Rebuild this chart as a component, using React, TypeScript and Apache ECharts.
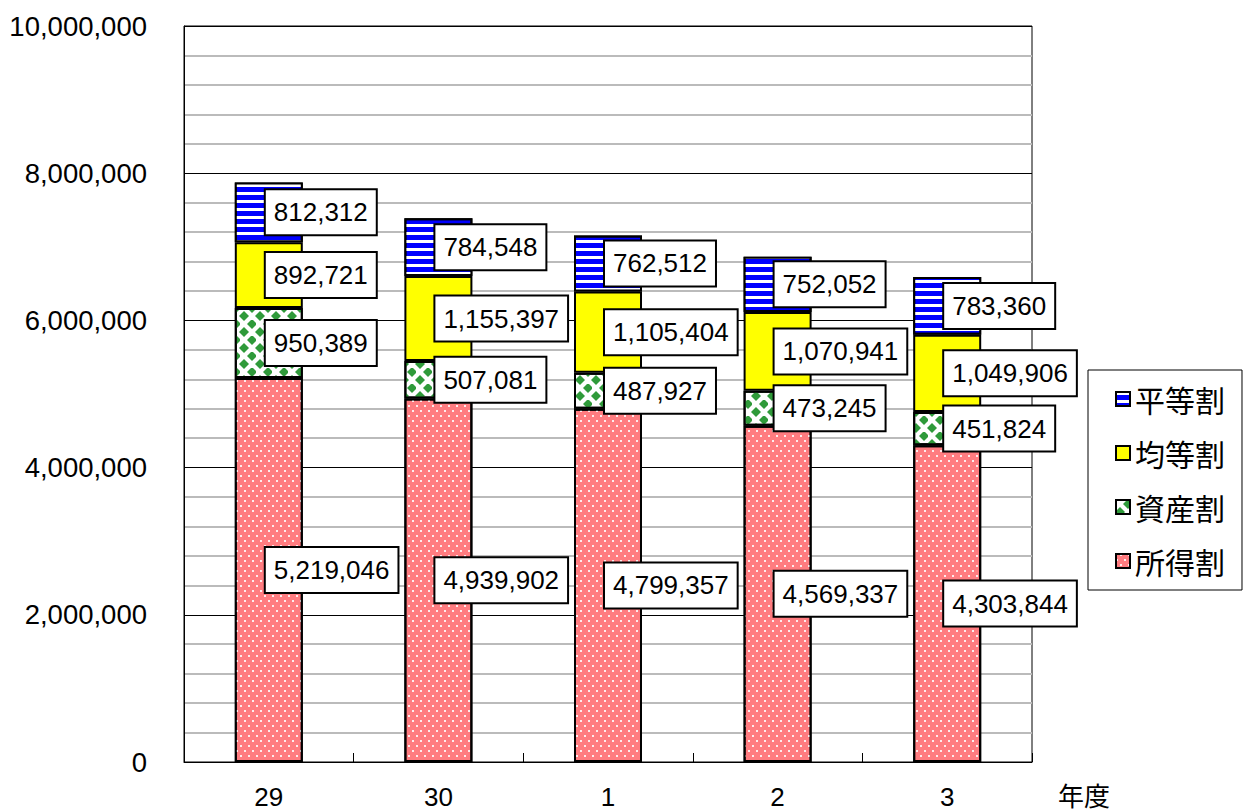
import React, { useEffect, useRef } from "react";
import * as echarts from "echarts";

const categories = ["29", "30", "1", "2", "3"];
const shotokuwari = [5219046, 4939902, 4799357, 4569337, 4303844];
const shisanwari = [950389, 507081, 487927, 473245, 451824];
const kintouwari = [892721, 1155397, 1105404, 1070941, 1049906];
const byoudouwari = [812312, 784548, 762512, 752052, 783360];
const seriesNames = ["所得割", "資産割", "均等割", "平等割"];
const legendOrder = ["平等割", "均等割", "資産割", "所得割"];
const xAxisName = "年度";

const FONT = "'Liberation Sans', 'Noto Sans CJK JP', sans-serif";
const CJK = "'Noto Sans CJK JP', sans-serif";

const fmt = (v: number) => v.toLocaleString("en-US");

export default function App() {
  const ref = useRef<HTMLDivElement>(null);
  useEffect(() => {
    document.body.style.margin = "0";
    const chart = echarts.init(ref.current!, undefined, { renderer: "svg" });
    const label = {
      show: true,
      position: ["50%", "50%"],
      offset: [-3, 0],
      align: "left",
      verticalAlign: "middle",
      formatter: (p: any) => fmt(p.value),
      fontFamily: FONT,
      fontSize: 26,
      lineHeight: 30,
      color: "#000",
      backgroundColor: "#fff",
      borderColor: "#000",
      borderWidth: 2,
      padding: [7, 8, 7, 8],
    };
    const mk = (name: string, data: number[], itemStyle: any) => ({
      name,
      type: "bar",
      stack: "total",
      barWidth: 68,
      data,
      label,
      itemStyle: { borderColor: "#000", borderWidth: 2, ...itemStyle },
      emphasis: { disabled: true },
    });
    chart.setOption({
      animation: false,
      grid: {
        left: 184,
        top: 26,
        right: 218,
        bottom: 49,
        show: true,
        borderColor: "#000",
        borderWidth: 1,
        backgroundColor: "#fff",
      },
      legend: {
        data: legendOrder,
        orient: "vertical",
        left: 1088,
        top: 370,
        backgroundColor: "#fff",
        borderColor: "#000",
        borderWidth: 1,
        padding: [14, 17, 14, 27],
        itemWidth: 14,
        itemHeight: 14,
        itemGap: 24,
        icon: "rect",
        textStyle: { fontFamily: CJK, fontSize: 30, lineHeight: 30, color: "#000" },
        selectedMode: false,
      },
      xAxis: {
        type: "category",
        data: categories,
        axisLine: { lineStyle: { color: "#000", width: 1 } },
        axisTick: { show: true, inside: true, length: 9, lineStyle: { color: "#000" } },
        axisLabel: { fontFamily: FONT, fontSize: 26, color: "#000", margin: 22 },
      },
      yAxis: {
        type: "value",
        min: 0,
        max: 10000000,
        interval: 2000000,
        axisLine: { show: true, lineStyle: { color: "#000", width: 1 } },
        axisTick: { show: false },
        axisLabel: {
          fontFamily: FONT,
          fontSize: 27.5,
          color: "#000",
          margin: 37,
          formatter: (v: number) => fmt(v),
        },
        splitLine: { show: true, lineStyle: { color: "#000", width: 1 } },
        minorTick: { show: false, splitNumber: 5 },
        minorSplitLine: { show: true, lineStyle: { color: "#bbbbbb", width: 2 } },
      },
      graphic: [
        {
          type: "text",
          x: 1058,
          y: 794,
          style: {
            text: xAxisName,
            font: `26px ${CJK}`,
            fill: "#000",
            verticalAlign: "middle",
          },
        },
      ],
      series: [
        mk(seriesNames[0], shotokuwari, {
          color: "#ff7c80",
          decal: {
            symbol: "rect",
            symbolSize: 1,
            color: "rgba(255,255,255,0.85)",
            dashArrayX: [
              [2, 6],
              [0, 4, 2, 2],
            ],
            dashArrayY: [2, 3],
            rotation: 0,
          },
        }),
        mk(seriesNames[1], shisanwari, {
          color: "#ffffff",
          decal: {
            symbol: "diamond",
            symbolSize: 1.25,
            color: "#2f9a3a",
            dashArrayX: [
              [8, 8],
              [0, 8, 8, 0],
            ],
            dashArrayY: [8, 0],
            rotation: 0,
          },
        }),
        mk(seriesNames[2], kintouwari, { color: "#ffff00" }),
        mk(seriesNames[3], byoudouwari, {
          color: "#0000ff",
          decal: {
            symbol: "rect",
            symbolSize: 1,
            color: "#ffffff",
            dashArrayX: [1, 0],
            dashArrayY: [3, 5],
            rotation: 0,
          },
        }),
      ],
    });
    return () => chart.dispose();
  }, []);
  return <div ref={ref} style={{ width: 1250, height: 811 }} />;
}
